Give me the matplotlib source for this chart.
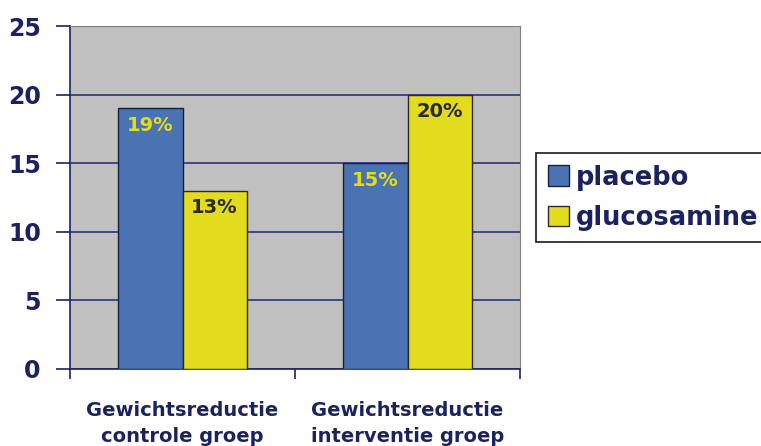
import matplotlib.pyplot as plt
import numpy as np
from matplotlib.patches import Patch

categories = ["Gewichtsreductie\ncontrole groep", "Gewichtsreductie\ninterventie groep"]
placebo = [19, 15]
glucosamine = [13, 20]
series_names = ["placebo", "glucosamine"]

navy = "#1c2260"
blue = "#4a73b3"
yellow = "#e3dc1e"

plt.rcParams['font.family'] = ['DejaVu Sans']

fig = plt.figure(figsize=(7.61, 4.46), dpi=100)
ax = fig.add_axes([70 / 761, 77 / 446, 450 / 761, 343 / 446])
ax.set_facecolor("#c0c0c0")

x = np.arange(len(categories))
w = 0.285
b1 = ax.bar(x - w / 2, placebo, w, color=blue, edgecolor="#1a1f40", linewidth=1, zorder=3)
b2 = ax.bar(x + w / 2, glucosamine, w, color=yellow, edgecolor="#2a2a2a", linewidth=1, zorder=3)

# value labels just inside the top of each bar
for rect, v in zip(b1, placebo):
    ax.text(rect.get_x() + rect.get_width() / 2, v - 0.55, f"{v}%", ha="center", va="top",
            color=yellow, fontsize=14, fontweight="bold", zorder=4)
for rect, v in zip(b2, glucosamine):
    ax.text(rect.get_x() + rect.get_width() / 2, v - 0.55, f"{v}%", ha="center", va="top",
            color="#2a2a2a", fontsize=14, fontweight="bold", zorder=4)

ax.set_xlim(-0.5, 1.5)
ax.set_ylim(0, 25)
ax.set_yticks([0, 5, 10, 15, 20, 25])
ax.yaxis.grid(True, color="#2a3380", linewidth=1.2, zorder=1)
ax.set_axisbelow(True)

ax.set_xticks(x)
ax.set_xticklabels(categories, fontsize=14, fontweight="bold", color=navy, linespacing=1.5)
ax.set_xticks([-0.5, 0.5, 1.5], minor=True)
ax.tick_params(axis="x", which="major", length=0, pad=23)
ax.tick_params(axis="x", which="minor", length=7, width=1.2, color=navy, direction="out")
ax.tick_params(axis="y", length=10, width=1.2, color=navy, pad=11, labelsize=17, labelcolor=navy)
for lbl in ax.get_yticklabels():
    lbl.set_fontweight("bold")

ax.spines["left"].set_color(navy)
ax.spines["bottom"].set_color(navy)
ax.spines["left"].set_linewidth(1.2)
ax.spines["bottom"].set_linewidth(1.2)
ax.spines["top"].set_color("#808080")
ax.spines["right"].set_color("#808080")

handles = [Patch(facecolor=blue, edgecolor="#1a1f40"), Patch(facecolor=yellow, edgecolor="#2a2a2a")]
leg = fig.legend(handles, series_names, loc="upper left", bbox_to_anchor=(536 / 761, 1 - 153 / 446),
                 frameon=True, fancybox=False, edgecolor="#1a1a1a", framealpha=1,
                 prop={"weight": "bold", "size": 18.5}, handlelength=0.85, handleheight=0.85,
                 handletextpad=0.25, borderpad=0.45, labelspacing=0.55, borderaxespad=0)
for t in leg.get_texts():
    t.set_color(navy)
leg.get_frame().set_linewidth(1.2)

fig.savefig("out.png", dpi=100)
